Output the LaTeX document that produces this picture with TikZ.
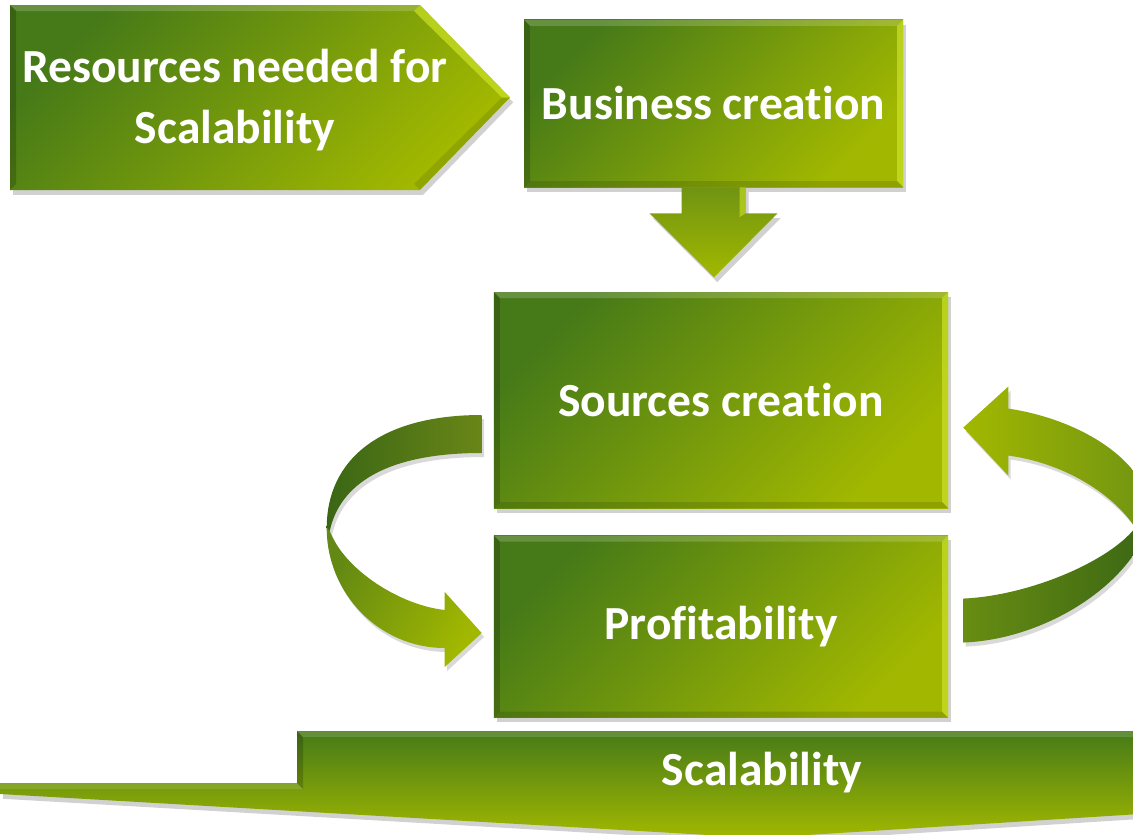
\documentclass[tikz,border=0pt]{standalone}
\usepackage{fontspec}
\setmainfont[Ligatures=NoCommon]{Carlito}
\usetikzlibrary{positioning,shadows}

\definecolor{leafdeep}{RGB}{58,102,20}
\definecolor{leafdark}{RGB}{70,122,24}
\definecolor{leafmid}{RGB}{112,148,18}
\definecolor{leaflight}{RGB}{162,184,0}
\definecolor{leafglow}{RGB}{204,226,40}

\newcommand\slabfont{\fontsize{33.8}{44}\selectfont\bfseries}

% bevelled rim inside a rectangular block
\newcommand\bevel{%
  \fill[white,opacity=.18] (path picture bounding box.north west) -- (path picture bounding box.north east)
    -- ++(-1.5mm,-1.5mm) -- ([shift={(1.5mm,-1.5mm)}]path picture bounding box.north west) -- cycle;
  \fill[leafglow,opacity=.7] (path picture bounding box.north east) -- (path picture bounding box.south east)
    -- ++(-1.5mm,1.5mm) -- ([shift={(-1.5mm,-1.5mm)}]path picture bounding box.north east) -- cycle;
  \fill[black,opacity=.12] (path picture bounding box.south west) -- (path picture bounding box.south east)
    -- ++(-1.5mm,1.5mm) -- ([shift={(1.5mm,1.5mm)}]path picture bounding box.south west) -- cycle;
  \fill[black,opacity=.18] (path picture bounding box.north west) -- (path picture bounding box.south west)
    -- ++(1.5mm,1.5mm) -- ([shift={(1.5mm,-1.5mm)}]path picture bounding box.north west) -- cycle;
}

\tikzset{
  slab/.style={top color=leafdark, bottom color=leaflight, shading angle=45,
    drop shadow={shadow xshift=.8mm, shadow yshift=-1.2mm, opacity=.3, fill=black!60}},
  block/.style={slab, rectangle, inner sep=0pt, text=white, font=\slabfont,
    path picture={\bevel}},
  blocktext/.style={text=white, font=\slabfont, align=center},
  ribbon/.style={drop shadow={shadow xshift=.6mm, shadow yshift=-1mm, opacity=.25, fill=black!60}},
}

\begin{document}
\begin{tikzpicture}[x=.25mm, y=-.25mm]
  \useasboundingbox (0,0) rectangle (1133,835);
  \clip (0,0) rectangle (1133,835);

  % arrow-shaped banner, top left
  \shade[slab] (10,5) -- (420,5) -- (510,97.5) -- (420,190) -- (10,190) -- cycle;
  \fill[white,opacity=.18] (10,5) -- (420,5) -- (414,11) -- (16,11) -- cycle;
  \fill[leafglow,opacity=.7] (420,5) -- (510,97.5) -- (502,97.5) -- (414,11) -- cycle;
  \fill[black,opacity=.1] (510,97.5) -- (420,190) -- (414,184) -- (502,97.5) -- cycle;
  \fill[black,opacity=.18] (10,5) -- (10,190) -- (16,184) -- (16,11) -- cycle;
  \node[blocktext] (needs) at (235,100) {Resources needed for\\Scalability};

  \node[block, minimum width=94.75mm, minimum height=41.75mm] (business) at (713.5,103.5) {Business creation};
  \node[block, minimum width=113.5mm, minimum height=54mm] (sources) at (721,400) {Sources creation};
  \node[block, minimum width=113.5mm, minimum height=45.5mm, below=6.75mm of sources] (profit) {Profitability};

  % block arrow down
  \begin{scope}[shift={(business.south)}]
    \shade[slab, top color=leafmid, bottom color=leaflight, shading angle=0]
      (-32,0) -- (-32,26) -- (-64,26) -- (0.5,90) -- (64,26) -- (32,26) -- (32,0) -- cycle;
    \fill[leafglow,opacity=.6] (26,0) -- (32,0) -- (32,26) -- (26,30) -- cycle;
  \end{scope}

  % left loop, sources -> profit
  \begin{scope}[shift={(sources.west)}]
    \shade[ribbon, left color=leafdeep, right color=leafmid!70!leafdeep!90!brown]
      (-12,15) .. controls (-114,15) and (-167,60) .. (-167,128) -- (-164,131)
      .. controls (-154,85) and (-109,53) .. (-12,53) -- cycle;
    \shade[ribbon, left color=leafmid!75!leafdeep, right color=leaflight, shading angle=60]
      (-167,128) .. controls (-167,194) and (-114,248) .. (-49,248) -- (-49,267) -- (-12,233)
      -- (-49,192) -- (-49,210) .. controls (-94,205) and (-149,170) .. (-164,131) -- cycle;
  \end{scope}

  % right loop, profit -> sources
  \begin{scope}[shift={(profit.east)}]
    \shade[ribbon, left color=leaflight, right color=leafmid]
      (15,-199) -- (60,-240) -- (60,-218) .. controls (127,-208) and (192,-171) .. (202,-121)
      -- (187,-99) .. controls (162,-136) and (112,-164) .. (60,-171) -- (60,-151) -- cycle;
    \shade[ribbon, left color=leafmid!85!leafdeep, right color=leafdeep]
      (202,-121) .. controls (204,-61) and (112,12) .. (15,16) -- (15,-28)
      .. controls (82,-31) and (162,-66) .. (187,-99) -- cycle;
  \end{scope}

  % base banner
  \shade[slab, shading angle=0] (297,731) -- (1140,731) -- (1140,814) -- (760,838) -- (0,794)
    -- (0,783) -- (297,783) -- cycle;
  \fill[white,opacity=.15] (297,731) -- (1140,731) -- (1140,737) -- (303,737) -- cycle;
  \fill[black,opacity=.18] (297,731) -- (297,783) -- (303,789) -- (303,737) -- cycle;
  \fill[white,opacity=.12] (0,783) -- (297,783) -- (303,789) -- (0,789) -- cycle;
  \node[blocktext] (scale) at (762,773) {Scalability};
\end{tikzpicture}
\end{document}
